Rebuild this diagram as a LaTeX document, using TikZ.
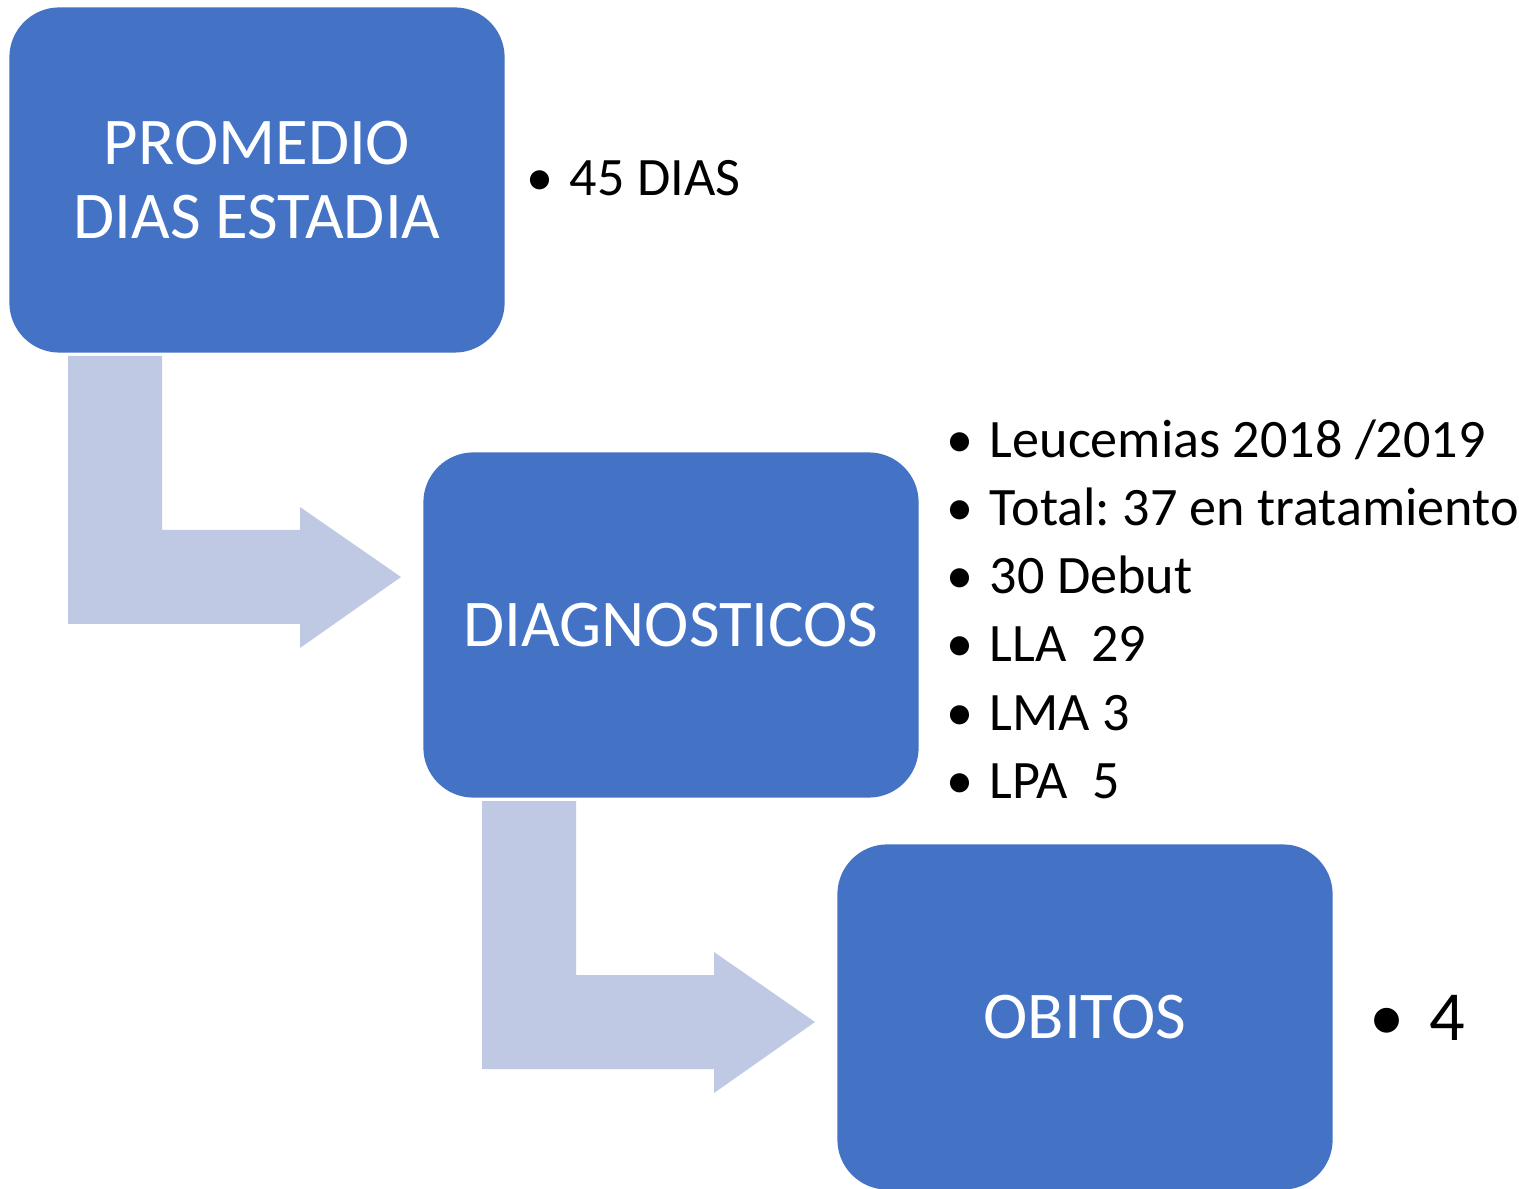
\documentclass[tikz,border=0pt]{standalone}
\usepackage{fontspec}
\setmainfont{Carlito}
\usetikzlibrary{positioning}
\definecolor{boxblue}{HTML}{4472C4}
\definecolor{arrowblue}{HTML}{BFC9E4}
\tikzset{
  stagebox/.style={fill=boxblue, draw=none, rounded corners=0.5cm,
    minimum width=4.95cm, minimum height=3.45cm, text=white, align=center,
    font=\fontsize{19}{21}\selectfont},
  itemtext/.style={anchor=base west, inner sep=0pt, font=\fontsize{15.4}{19}\selectfont\frenchspacing},
  bigitem/.style={anchor=base west, inner sep=0pt, font=\fontsize{20}{24}\selectfont}
}
\begin{document}
\begin{tikzpicture}[x=0.01cm, y=-0.01cm]
                \useasboundingbox (0,0) rectangle (1519,1189);
                % bent arrows
                \foreach \dx/\dy in {0/0, 414/445}
                  \fill[arrowblue, shift={(\dx,\dy)}] (68,356) -- (162,356) -- (162,530) -- (300,530) -- (300,507)
                    -- (401,577) -- (300,648) -- (300,624) -- (68,624) -- cycle;
                \node[stagebox] (promedio) at (257,180) {PROMEDIO\\DIAS ESTADIA};
                \node[stagebox] (diagnosticos) at (671,625) {DIAGNOSTICOS};
                \node[stagebox] (obitos) at (1085,1017) {OBITOS};
                % bullet texts
                \node[itemtext] (dias) at (526,196) {\textbullet\hspace{0.3em}45 DIAS};
                \foreach \txt [count=\i] in {Leucemias 2018 /2019, Total: 37 en tratamiento, 30 Debut, LLA\ \ 29, LMA 3, LPA\ \ 5}
                  \node[itemtext] (diag-\i) at (946,{440+68*(\i-1)+18}) {\textbullet\hspace{0.3em}\txt};
                \node[bigitem] (num) at (1369,1040) {\textbullet\hspace{0.35em}4};
            \end{tikzpicture}
\end{document}
